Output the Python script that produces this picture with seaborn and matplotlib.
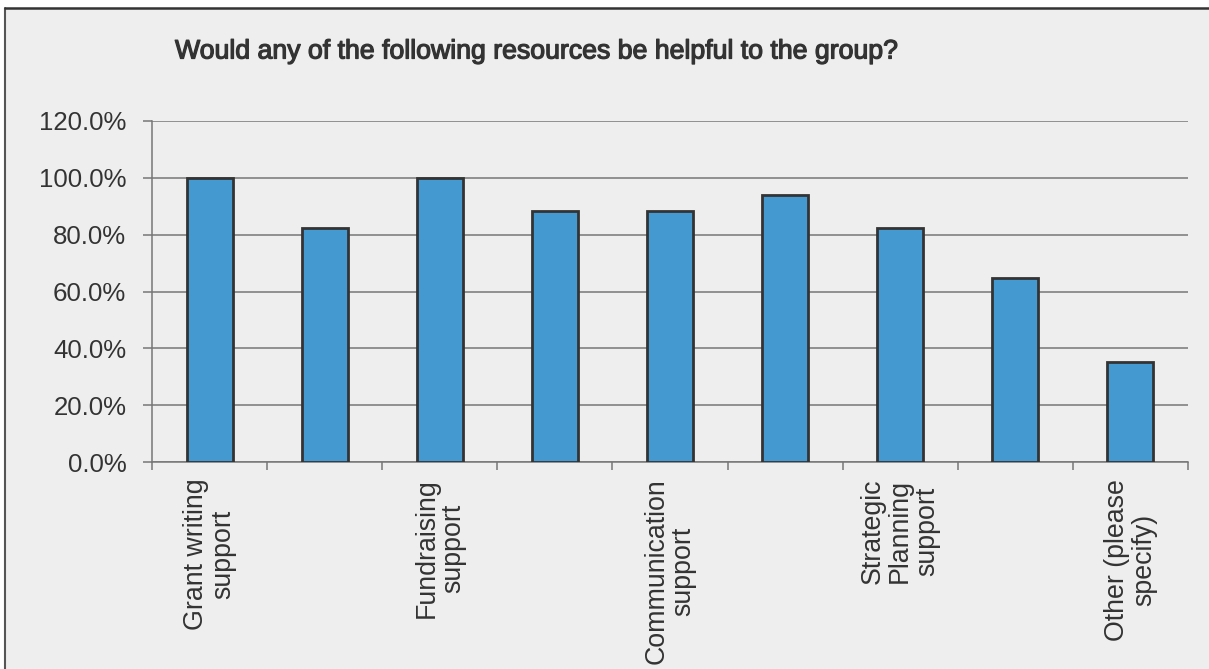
import numpy as np
import pandas as pd
import matplotlib
matplotlib.use("Agg")
import matplotlib.pyplot as plt
from matplotlib.ticker import FixedLocator, FuncFormatter
from matplotlib.lines import Line2D
import matplotlib.patheffects as pe
import seaborn as sns

# Share of respondents choosing each resource (percent)
positions = [0, 1, 2, 3, 4, 5, 6, 7, 8]
values = [100.0, 82.4, 100.0, 88.2, 88.2, 94.1, 82.4, 64.7, 35.3]
tick_labels = [
    "Grant writing\nsupport",
    "",
    "Fundraising\nsupport",
    "",
    "Communication\nsupport",
    "",
    "Strategic\nPlanning\nsupport",
    "",
    "Other (please\nspecify)",
]
y_ticks = [0, 20, 40, 60, 80, 100, 120]
title = "Would any of the following resources be helpful to the group?"

BG = "#EEEEEE"
BAR = "#4499D0"
EDGE = "#333333"
GRID = "#767676"
TEXT = "#333333"

sns.set_theme(style="white")
plt.rcParams["font.family"] = ["Liberation Sans", "DejaVu Sans"]

df = pd.DataFrame({"pos": positions, "pct": values})

fig = plt.figure(figsize=(12.09, 6.69), dpi=100, facecolor="white")
# Panel background with a dark frame on the top and left edges
fig.patches.append(plt.Rectangle((4.5 / 1209, 0), 1.0, 1 - 7.5 / 669,
                                 transform=fig.transFigure, facecolor=BG,
                                 edgecolor="none", zorder=-10))
fig.lines.append(Line2D([4.5 / 1209, 4.5 / 1209], [0, 1 - 7.5 / 669],
                        transform=fig.transFigure, color="#555555", lw=1.5))
fig.lines.append(Line2D([4.5 / 1209, 1.0], [1 - 7.5 / 669, 1 - 7.5 / 669],
                        transform=fig.transFigure, color="#333333", lw=1.8))

ax = fig.add_axes([152 / 1209, 1 - 462 / 669, (1188 - 152) / 1209, (462 - 121) / 669])
ax.set_facecolor(BG)

sns.barplot(data=df, x="pos", y="pct", order=positions, color=BAR,
            saturation=1, width=0.4, edgecolor=EDGE, linewidth=2.0,
            ax=ax, zorder=3)

ax.set_xlim(-0.5, len(positions) - 0.5)
ax.set_ylim(0, 120)
ax.set_yticks(y_ticks)
ax.yaxis.set_major_formatter(FuncFormatter(lambda v, _: f"{v:.1f}%"))
ax.grid(axis="y", color=GRID, linewidth=1.1, zorder=0)
ax.set_axisbelow(True)

# Category labels at bar centres, tick marks on the category boundaries
ax.set_xticks(positions)
ax.set_xticklabels(tick_labels, rotation=90, ha="center", va="top",
                   multialignment="center", linespacing=1.05)
ax.xaxis.set_minor_locator(FixedLocator(np.arange(-0.5, len(positions), 1.0)))
ax.tick_params(axis="x", which="major", length=0, pad=12, labelsize=19.3,
               colors=TEXT)
ax.tick_params(axis="x", which="minor", length=6, width=1.1, color=GRID,
               direction="out", bottom=True)
ax.tick_params(axis="y", length=6.5, width=1.1, color=GRID, direction="out",
               left=True, pad=12, labelsize=18.6, labelcolor=TEXT)

ax.set_xlabel("")
ax.set_ylabel("")
for side in ("top", "right"):
    ax.spines[side].set_visible(False)
for side in ("left", "bottom"):
    ax.spines[side].set_color(GRID)
    ax.spines[side].set_linewidth(1.1)

fig.text(175 / 1209, 1 - 51.5 / 669, title, ha="left", va="center",
         fontsize=19.2, color=TEXT,
         path_effects=[pe.withStroke(linewidth=0.9, foreground=TEXT)])

fig.savefig("out.png", dpi=100, facecolor="white")
